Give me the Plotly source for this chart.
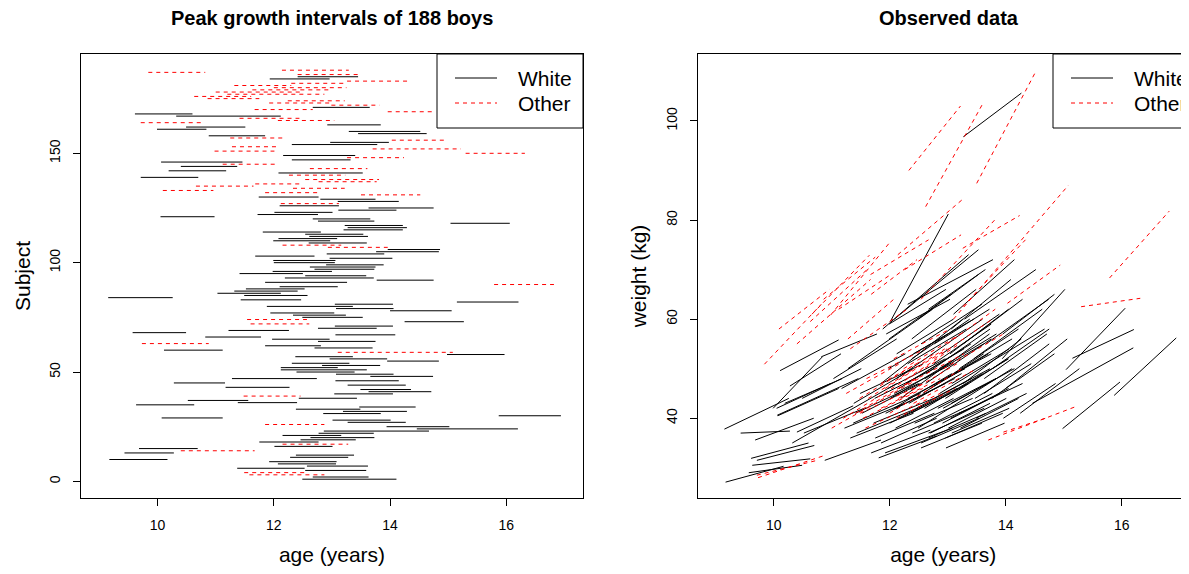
import plotly.graph_objects as go

# ---------------- data ----------------
subject = list(range(1, 189))
age_start = [12.49,12.67,11.58,11.49,12.54,11.37,12.57,12.07,11.92,9.17,
             12.28,12.38,9.43,10.40,9.68,12.01,12.15,11.75,12.46,12.63,
             12.15,12.77,12.86,14.46,13.94,11.85,13.27,13.01,10.07,15.87,
             12.85,13.19,12.38,13.47,9.63,11.38,10.52,12.43,11.48,13.04,
             13.63,13.49,11.17,13.27,10.28,13.06,11.28,13.66,13.07,12.39,
             12.12,12.12,12.83,12.31,13.95,12.96,12.37,14.98,13.10,10.11,
             12.70,11.85,9.73,12.76,11.97,10.82,13.06,9.57,11.22,12.76,
             13.05,11.60,14.25,11.54,12.49,12.33,11.94,14.00,13.07,11.88,
             13.05,15.15,11.43,9.15,11.49,11.03,11.32,11.52,12.10,15.79,
             11.85,13.77,12.19,12.54,11.41,11.98,12.70,12.62,12.90,12.00,
             11.99,12.96,11.68,12.91,13.76,13.96,12.93,12.15,12.60,11.99,
             12.08,12.61,12.54,11.81,13.20,13.27,13.22,15.04,12.76,12.67,
             10.05,11.72,12.01,13.11,13.63,12.10,12.12,13.10,12.80,11.74,
             13.50,11.85,10.09,12.33,10.66,11.68,12.77,12.54,9.71,12.26,
             12.08,10.19,12.62,10.40,11.12,10.06,12.31,13.26,12.16,15.30,
             10.98,13.70,11.28,12.31,12.97,14.03,11.25,10.88,13.45,13.29,
             9.99,10.49,12.92,9.71,12.07,11.41,10.32,9.61,13.96,11.67,
             12.67,12.99,11.92,12.24,10.86,10.63,11.20,11.00,11.63,12.00,
             11.32,12.30,13.26,11.93,12.41,12.41,9.84,12.14]
age_end = [14.11,13.63,12.87,12.58,13.59,12.53,13.62,13.07,13.08,10.17,
           13.28,13.38,10.28,11.67,10.69,13.01,13.28,12.77,13.41,13.73,
           13.16,13.72,14.67,16.20,15.02,12.87,14.27,14.01,11.12,16.94,
           13.84,14.29,13.49,14.44,10.63,12.40,11.56,13.43,12.46,14.05,
           14.71,14.36,12.27,14.27,11.16,14.15,12.74,14.74,14.06,13.39,
           13.60,13.10,13.83,13.30,14.84,13.95,13.36,15.97,15.08,11.12,
           13.70,12.81,10.88,13.75,12.96,11.78,14.09,10.49,12.26,13.77,
           14.05,12.61,15.27,12.57,13.53,13.24,13.04,15.06,14.06,13.36,
           14.05,16.21,12.47,10.26,12.58,12.12,12.41,12.53,13.10,16.82,
           13.26,14.75,13.72,13.59,12.50,13.00,13.73,13.75,13.89,13.05,
           13.06,14.04,12.70,13.90,14.84,14.86,13.96,13.16,13.60,12.97,
           13.09,13.62,13.54,12.81,14.22,14.29,14.22,16.06,13.73,13.66,
           10.98,12.76,13.01,14.11,14.75,13.12,13.12,14.15,13.75,12.77,
           14.52,12.77,10.96,13.22,11.65,12.47,13.77,13.81,10.70,13.23,
           13.53,11.18,13.61,11.37,12.02,11.46,13.32,14.24,13.40,16.32,
           12.01,15.22,12.07,13.78,13.98,14.94,12.17,11.85,14.63,14.52,
           10.84,11.51,13.84,10.75,13.04,12.44,12.12,10.60,14.74,12.67,
           13.65,13.82,12.99,13.22,11.75,11.61,12.87,12.50,12.95,13.25,
           12.30,13.20,14.34,12.96,13.45,13.50,10.82,13.29]
group = ("WWOOWWWWWW" "WWWOWWOWWW" "WWWWWOWWWW" "WWWWWWWWOW"
         "WWWWWWWWWW" "WWWWWWWWOW" "WWOWWWWWWW" "WOWOWWWWWW"
         "WWWWWWWWWO" "WWWWWWWWWW" "WWWWWWOOWW" "WWWWWWWWWW"
         "WWWWWWOWWW" "OOOOOOOOWO" "WWOWOWWOWO" "OOOWWOOWWW"
         "WWWOOOWWOO" "WOOOOOOOOO" "OOOWWOOO")
wt_start = [38,37,38,41,34,39,45,42,33,27.1,
            47,52,37,55,35.6,44,46,36,42,49,
            40,55,45,43,52,42,47,38,40.5,44.6,
            50,41,56,44,30.5,43,37,39,44,53,
            48,40,46,96.8,46.5,43,50,55,47,37,
            48,53,42,44,57,36,41,37.9,60,49.6,
            46,35,28,51,46,52.4,58,29,38,39,
            45,48,41,40,60,43,57,46,37,58,
            40,52.1,37,37.8,45,48,36,41,38,68.3,
            47,50,44,55,41,50,37,47,53,39,
            56,44,33,39,44,40,50,44,42,59,
            45,48,35,32,50,55,38,49.8,44,36,
            42,39,59.5,49,45,42,40,61,47,44,
            87.4,47,58,90,61,65,52,64,31.5,70,
            60,43,82.7,37.2,62,40.6,51,74.3,46,62.5,
            60.8,35.6,56,63,34,63.2,45,31.5,52,60,
            42,44,42,28.5,52,41,35,31.9,37.2,69,
            62,55,46,50,64,59.5,40,38,44,41,
            54,48,62.5,41,53,43,50.9,73]
wt_end = [50,42,45,47,39,45,53,49,38,30.3,
          54,60,37.4,68,40,51,53,41,48,58,
          46,62,58,54.2,66,48,56,44,46,56.2,
          57,47,66,51,31.8,50,42,44,51,62,
          57,45,53,105.6,53,50,62,64,54,42,
          60,60,48,50,65,41,47,47.3,87,55.8,
          53,40,32.5,59,52,57,68,30.5,43,45,
          52,54,50,46,69,49,64,56,42,73,
          46,57.9,42,44,51,56,41,47,44,81.8,
          60,58,57,63,47,57,43,56,61,45,
          65,52,37.6,45,53,47,57,51,49,66,
          51,55,40,36.4,58,64,44,62.2,50,41,
          47,44,81.2,56,55,48,46,72,53,50,
          110,53,66,103,72.9,72,60,80,34.5,77,
          74,48,103.6,42.5,69,48,58,80.9,55,64.2,
          75.6,42.4,64,72,39,70.9,51,35.6,62,70,
          52.4,50,48,31.5,58,48,47,35,40.2,76,
          70,62,54,57,72.5,70,52,48,54,50,
          62,55,76,47,60,50,63,84.5]

group_names = {"W": "White", "O": "Other"}
group_colors = {"W": "#000000", "O": "#FF0000"}
group_dash = {"W": "solid", "O": "4px,4px"}
x_ticks = [10, 12, 14, 16]
subject_ticks = [0, 50, 100, 150]
weight_ticks = [40, 60, 80, 100]

# ---------------- figure ----------------
# the page body has an 8px margin, so the figure is placed 8px in from the window edge
OFF = 8
W, H = 1189 - OFF, 574 - OFF
ML, MT, MB = 81 - OFF, 54 - OFF, 76
PW, PH = W - ML, H - MT - MB


def px(xs):  # window x -> paper x
    return (xs - OFF - ML) / PW


def py(ys):  # window y -> paper y
    return (H - MB - (ys - OFF)) / PH


fig = go.Figure()

for g in ["W", "O"]:
    xs, ys, xs2, ys2 = [], [], [], []
    for i in range(len(subject)):
        if group[i] != g:
            continue
        xs += [age_start[i], age_end[i], None]
        ys += [subject[i], subject[i], None]
        xs2 += [age_start[i], age_end[i], None]
        ys2 += [wt_start[i], wt_end[i], None]
    line = dict(color=group_colors[g], width=1, dash=group_dash[g])
    fig.add_trace(go.Scatter(x=xs, y=ys, mode="lines", line=line,
                             name=group_names[g], showlegend=False,
                             xaxis="x", yaxis="y", hoverinfo="skip"))
    fig.add_trace(go.Scatter(x=xs2, y=ys2, mode="lines", line=line,
                             name=group_names[g], showlegend=False,
                             xaxis="x2", yaxis="y2", hoverinfo="skip"))

font_family = "Liberation Sans, Arial, Helvetica, sans-serif"
axis_common = dict(showline=True, linecolor="black", linewidth=1, mirror=True,
                   ticks="outside", ticklen=7, tickcolor="black", tickwidth=1,
                   showgrid=False, zeroline=False,
                   tickfont=dict(family=font_family, size=14, color="black"))
title_font = dict(family=font_family, size=21, color="black")

left_x1 = 583      # window px of left panel right edge
right_x0 = 697.5   # window px of right panel left edge
fig.update_layout(
    width=W, height=H,
    margin=dict(l=ML, r=0, t=MT, b=MB),
    plot_bgcolor="white", paper_bgcolor="white",
    showlegend=False,
    xaxis=dict(domain=[0, px(left_x1)], range=[8.682, 17.32], tickvals=x_ticks,
               ticklabelstandoff=7,
               title=dict(text="age (years)", standoff=15, font=title_font),
               **axis_common),
    yaxis=dict(domain=[0, 1], range=[-7.6, 195.4], tickvals=subject_ticks,
               tickangle=-90, ticklabelstandoff=7,
               title=dict(text="Subject", standoff=11, font=title_font),
               **axis_common),
    xaxis2=dict(domain=[px(right_x0), 1],
                range=[8.686, 8.686 + (1189 - right_x0) / 58.0],
                tickvals=x_ticks, anchor="y2", ticklabelstandoff=7,
                title=dict(text="age (years)", standoff=15, font=title_font),
                **axis_common),
    yaxis2=dict(domain=[0, 1], range=[23.9, 113.5], tickvals=weight_ticks,
                anchor="x2", tickangle=-90, ticklabelstandoff=7,
                title=dict(text="weight (kg)", standoff=11, font=title_font),
                **axis_common),
)

# panel titles
for txt, xc in [("Peak growth intervals of 188 boys", (81 + left_x1) / 2),
                ("Observed data", right_x0 + (left_x1 - 81) / 2)]:
    fig.add_annotation(text="<b>%s</b>" % txt, x=px(xc), y=py(18),
                       xref="paper", yref="paper", showarrow=False,
                       xanchor="center", yanchor="middle",
                       font=dict(family=font_family, size=20, color="black"))

# legends (one per panel, drawn like R's legend box)
for off in [0, right_x0 - 81.5]:
    bx0 = 437 + off
    fig.add_shape(type="rect", xref="paper", yref="paper",
                  x0=px(bx0), x1=px(bx0 + 146), y0=py(128), y1=py(54),
                  line=dict(color="black", width=1), fillcolor="white", layer="above")
    for g, yy in [("W", 78), ("O", 103)]:
        fig.add_shape(type="line", xref="paper", yref="paper",
                      x0=px(bx0 + 18), x1=px(bx0 + 60), y0=py(yy), y1=py(yy),
                      line=dict(color=group_colors[g], width=1, dash=group_dash[g]),
                      layer="above")
        fig.add_annotation(text=group_names[g], x=px(bx0 + 79), y=py(yy),
                           xref="paper", yref="paper", showarrow=False,
                           xanchor="left", yanchor="middle",
                           font=dict(family=font_family, size=21, color="black"))

fig.write_html("out.html")
